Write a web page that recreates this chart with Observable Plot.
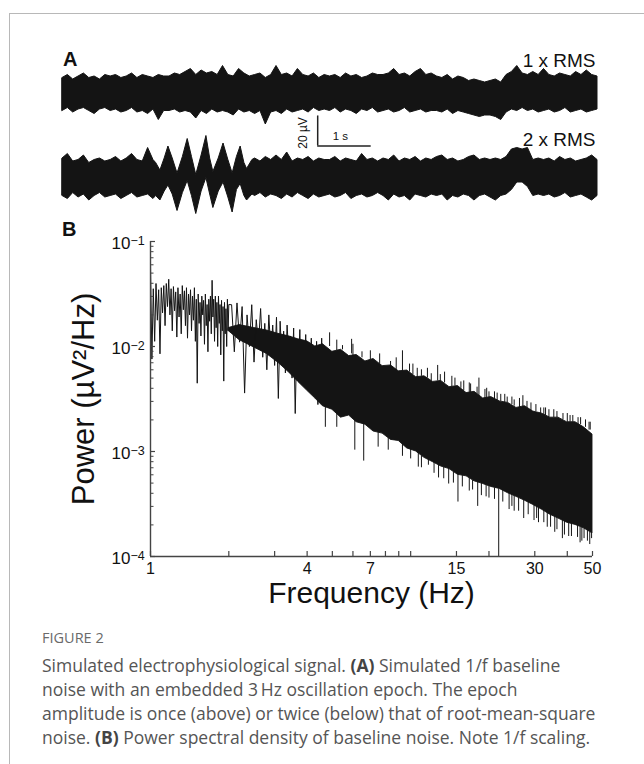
<!DOCTYPE html>
<html><head><meta charset="utf-8">
<script src="https://cdn.jsdelivr.net/npm/d3@7"></script>
<script src="https://cdn.jsdelivr.net/npm/@observablehq/plot@0.6"></script>
<style>
html,body{margin:0;padding:0;background:#fff;}
#root{position:relative;width:644px;height:764px;overflow:hidden;background:#fff;font-family:"Liberation Sans",Arial,sans-serif;}
.frame{position:absolute;left:9px;top:13px;width:700px;height:800px;border-left:1.5px solid #b8b8b8;border-top:1.5px solid #b8b8b8;}
.holder{position:absolute;left:0;width:644px;}
.plab{position:absolute;font-weight:bold;font-size:20px;line-height:20px;color:#111;}
#figno{position:absolute;left:42px;top:629.5px;font-family:"Open Sans",Lato,sans-serif;font-size:14.5px;line-height:16px;color:#6a6a6a;}
#caption{position:absolute;left:42px;top:652.6px;font-family:"Open Sans",Lato,sans-serif;font-size:17.5px;line-height:24.3px;color:#555;white-space:nowrap;}
#caption b{color:#444;}
</style></head>
<body><div id="root">
<div class="frame"></div>
<div id="panelA" class="holder" style="top:0"></div>
<div id="panelB" class="holder" style="top:215px"></div>
<div class="plab" style="left:63px;top:49px">A</div>
<div class="plab" style="left:62px;top:219px">B</div>
<div id="figno">FIGURE 2</div>
<div id="caption">Simulated electrophysiological signal. <b>(A)</b> Simulated 1/f baseline<br>noise with an embedded 3&#8201;Hz oscillation epoch. The epoch<br>amplitude is once (above) or twice (below) that of root-mean-square<br>noise. <b>(B)</b> Power spectral density of baseline noise. Note 1/f scaling.</div>
</div>
<script>
// ---------- Panel A: traces (µV), envelope ----------
const traceLabels = ["1 x RMS", "2 x RMS"];

const t1 = [0,0.1,0.2,0.3,0.4,0.5,0.6,0.7,0.8,0.9,
  1,1.1,1.2,1.3,1.4,1.5,1.6,1.7,1.8,1.9,
  2,2.1,2.2,2.3,2.4,2.5,2.6,2.7,2.8,2.9,
  3,3.1,3.2,3.3,3.4,3.5,3.6,3.7,3.8,3.9,
  4,4.1,4.2,4.3,4.4,4.5,4.6,4.7,4.8,4.9,
  5,5.1,5.2,5.3,5.4,5.5,5.6,5.7,5.8,5.9,
  6,6.1,6.2,6.3,6.4,6.5,6.6,6.7,6.8,6.9,
  7,7.1,7.2,7.3,7.4,7.5,7.6,7.7,7.8,7.9,
  8,8.1,8.2,8.3,8.4,8.5,8.6,8.7,8.8,8.9,
  9,9.1,9.2,9.3,9.4,9.5,9.6,9.7,9.8,9.9,10];
const hi1 = [10,12,9,11,13,10,11,9,12,11,
  12,10,11,13,10,12,11,10,12,11,
  11,13,12,14,16,12,15,13,14,12,
  18,12,11,16,13,11,12,13,10,12,
  18,12,13,11,16,12,11,13,10,12,
  11,12,10,13,11,12,10,11,13,12,
  12,13,16,12,13,11,14,16,12,13,
  11,10,12,9,11,10,8,9,8,7,
  8,9,7,12,14,18,13,12,14,12,
  16,12,11,13,12,11,14,12,15,12,11];
const lo1 = [-12,-10,-13,-11,-10,-12,-14,-11,-10,-12,
  -11,-13,-12,-10,-13,-12,-14,-11,-18,-12,
  -12,-11,-13,-12,-13,-17,-12,-14,-11,-13,
  -12,-13,-15,-11,-13,-12,-14,-12,-21,-13,
  -12,-14,-11,-13,-12,-11,-13,-10,-12,-11,
  -12,-10,-13,-11,-12,-14,-11,-12,-10,-13,
  -12,-11,-13,-12,-10,-13,-12,-11,-13,-12,
  -12,-13,-11,-14,-12,-13,-14,-15,-16,-15,
  -15,-16,-18,-13,-11,-12,-10,-12,-11,-13,
  -12,-11,-13,-12,-10,-13,-12,-11,-13,-12,-11];

const t2 = [0,0.1,0.2,0.3,0.4,0.5,0.6,0.7,0.8,0.9,1,1.1,1.2,1.3,1.4,1.5,1.6,1.7,
  1.75,1.83,1.91,1.98,2.06,2.15,2.25,2.34,2.42,2.5,2.6,2.69,2.76,2.82,2.92,3.01,3.1,3.18,3.26,3.33,3.4,3.45,3.55,
  3.6,3.7,3.8,3.9,4,4.1,4.2,4.3,4.4,4.5,4.6,4.7,4.8,4.9,
  5,5.1,5.2,5.3,5.4,5.5,5.6,5.7,5.8,5.9,
  6,6.1,6.2,6.3,6.4,6.5,6.6,6.7,6.8,6.9,
  7,7.1,7.2,7.3,7.4,7.5,7.6,7.7,7.8,7.9,
  8,8.1,8.2,8.3,8.4,8.5,8.6,8.7,8.8,8.9,
  9,9.1,9.2,9.3,9.4,9.5,9.6,9.7,9.8,9.9,10];
const hi2 = [13,16,11,12,15,10,12,13,11,12,14,11,13,16,12,11,20,12,
  10,5,13,21,13,3,14,26,14,2,15,28,13,4,13,23,12,3,14,21,10,6,12,
  13,11,14,12,15,12,17,11,13,12,14,11,13,12,
  12,14,11,13,12,11,16,12,13,11,
  13,12,15,11,13,12,14,11,13,12,
  14,15,12,13,11,12,14,15,12,13,
  12,13,12,14,19,20,19,20,12,13,
  12,13,11,14,12,13,11,12,13,15,12];
const lo2 = [-12,-14,-10,-13,-11,-15,-12,-10,-13,-12,-11,-14,-12,-10,-13,-12,-11,-14,
  -12,-15,-9,-5,-11,-22,-10,-2,-12,-24,-9,0,-11,-20,-9,-3,-13,-23,-8,-4,-12,-15,-11,
  -12,-10,-13,-11,-12,-14,-11,-13,-10,-12,-14,-11,-13,-12,
  -11,-13,-12,-10,-14,-12,-11,-13,-12,-10,
  -12,-15,-11,-13,-12,-15,-11,-12,-13,-11,
  -12,-11,-15,-12,-13,-11,-12,-15,-12,-11,
  -13,-15,-12,-11,-8,-3,-3,-6,-12,-11,
  -12,-11,-13,-12,-10,-13,-12,-11,-13,-15,-12];

// scale bar: 1 s by 20 µV
const scaleBarT = [4.77, 5.77];
const scaleBarV = [-35.3, -15.3];
const scaleBarLabels = ["1 s", "20 µV"];

// ---------- Panel B: power spectral density ----------
const psdLowF = [1,1.0125,1.025,1.0375,1.05,1.0625,1.075,1.0875,1.1,1.1125,1.125,1.1375,1.15,1.1625,1.175,1.1875,
  1.2,1.2125,1.225,1.2375,1.25,1.2625,1.275,1.2875,1.3,1.3125,1.325,1.3375,1.35,1.3625,1.375,1.3875,
  1.4,1.4125,1.425,1.4375,1.45,1.4625,1.475,1.4875,1.5,1.5125,1.525,1.5375,1.55,1.5625,1.575,1.5875,
  1.6,1.6125,1.625,1.6375,1.65,1.6625,1.675,1.6875,1.7,1.7125,1.725,1.7375,1.75,1.7625,1.775,1.7875,
  1.8,1.8125,1.825,1.8375,1.85,1.8625,1.875,1.8875,1.9,1.9125,1.925,1.9375,1.95,1.9625,1.975,1.9875,2,
  2.05,2.1,2.15,2.2,2.25,2.3,2.35,2.4,2.45,2.5,2.55,2.6,2.65,2.7,2.75,2.8,2.85,2.9,2.95,3,
  3.05,3.1,3.15,3.2,3.25,3.3,3.35,3.4,3.45,3.5,3.55,3.6,3.65,3.7,3.75,3.8,3.85,3.9,3.95,4,
  4.05,4.1,4.15,4.2,4.25,4.3,4.35,4.4,4.45,4.5,4.55,4.6];
const psdLowP = [0.0617,0.00759,0.0355,0.0112,0.0398,0.0178,0.0347,0.00851,0.0363,0.0209,0.0380,0.0158,0.0398,0.0240,0.0437,0.0200,
  0.0355,0.0141,0.0372,0.0219,0.0331,0.0123,0.0363,0.0191,0.0316,0.0132,0.0380,0.0224,0.0339,0.0158,0.0363,0.0120,
  0.0316,0.0200,0.0347,0.0141,0.0302,0.0178,0.0363,0.0112,0.0282,0.00447,0.0316,0.0166,0.0263,0.0126,0.0302,0.0200,
  0.0275,0.0105,0.0316,0.0158,0.0251,0.00891,0.0282,0.0174,0.0302,0.0132,0.0427,0.0191,0.0282,0.0112,0.0302,0.0151,
  0.0263,0.0100,0.0302,0.0166,0.0251,0.00832,0.0275,0.0141,0.0240,0.00468,0.0263,0.0132,0.0229,0.0100,0.0282,0.0141,0.0251,
  0.025,0.0089,0.026,0.011,0.024,0.0036,0.020,0.010,0.025,0.0071,0.018,0.0105,0.023,0.0079,0.0166,0.006,0.020,0.0089,0.016,0.0066,
  0.019,0.0032,0.0174,0.0076,0.014,0.0056,0.016,0.0083,0.0126,0.005,0.015,0.0023,0.0112,0.0063,0.0145,0.0045,0.0105,0.0052,0.013,0.004,
  0.010,0.005,0.012,0.0035,0.0095,0.0045,0.0112,0.0028,0.0089,0.004,0.012,0.0032];

const psdBandF = [2.0,2.2,2.5,2.8,3.1,3.4,3.7,4.0,4.3,4.6,5.0,5.4,5.8,6.2,6.7,7.2,7.8,8.4,9.0,9.7,10.5,11.3,12.2,13.1,14.1,15.2,16.4,17.6,19.0,20.4,22.0,23.7,25.5,27.5,29.6,31.9,34.4,37.0,39.9,43.0,46.3,50.0];
const psdBandHi = [0.0150,0.0160,0.0150,0.0142,0.0132,0.0125,0.0117,0.0112,0.0100,0.0105,0.0089,0.0093,0.0081,0.0083,0.0072,0.0076,0.0065,0.0066,0.0058,0.0059,0.0051,0.0052,0.0046,0.0047,0.0041,0.0042,0.0036,0.0037,0.0032,0.0033,0.0030,0.0029,0.0026,0.0027,0.0024,0.0023,0.0021,0.0021,0.0019,0.0019,0.0017,0.00145];
const psdBandLo = [0.0140,0.0115,0.0098,0.0085,0.0070,0.0057,0.0046,0.0038,0.0032,0.0027,0.0025,0.0021,0.0022,0.0019,0.0018,0.00155,0.00148,0.00129,0.00126,0.00107,0.0010,0.00087,0.00079,0.00072,0.00068,0.0006,0.00058,0.00052,0.00049,0.00046,0.00044,0.0004,0.00037,0.00034,0.00031,0.00028,0.00025,0.00023,0.00021,0.0002,0.000186,0.000166];

// thin spikes sticking out of the dense band (upper fringe, then lower fringe)
const psdSpikeF = [4.88,5.2,5.47,5.93,6.0,6.5,7.0,7.6,8.37,8.8,9.3,9.9,10.2,10.6,11.0,11.6,12.0,12.7,13.0,13.5,14.4,14.8,15.6,16.0,16.8,17.0,18.0,18.3,19.3,19.6,20.0,21.0,21.5,22.2,23.0,23.5,24.5,25.0,26.2,27.0,28.0,29.0,30.3,31.6,32.5,33.0,34.0,35.5,36.5,38.5,40.0,41.0,42.0,44.0,45.0,47.0,48.5,49.0,
  4.7,5.2,6.1,6.6,7.5,8.2,9.3,10.0,10.7,11.0,11.7,12.3,12.8,13.4,14.0,14.6,15.2,15.8,16.8,17.3,18.1,18.7,19.5,20.0,21.0,21.8,22.6,23.9,24.5,25.0,26.0,27.2,28.3,29.8,30.5,31.0,32.5,33.5,34.5,35.8,36.5,38.3,39.0,40.5,41.5,43.8,44.8,45.5,46.4,47.8,48.8,49.6];
const psdSpikeFrom = [0.0100,0.0091,0.0093,0.0085,0.0082,0.0078,0.0074,0.0068,0.0063,0.0060,0.0058,0.0057,0.0054,0.0051,0.0052,0.0050,0.0047,0.0047,0.0046,0.0045,0.0041,0.0042,0.0040,0.0038,0.0036,0.0036,0.0035,0.0034,0.0032,0.0032,0.0032,0.0031,0.0030,0.0030,0.0029,0.0029,0.0028,0.0027,0.0026,0.0026,0.0026,0.0024,0.0024,0.0023,0.0022,0.0022,0.0021,0.0021,0.0021,0.0020,0.0019,0.0019,0.0019,0.0018,0.0018,0.0017,0.0016,0.0016,
  0.0028,0.0024,0.0021,0.0019,0.00152,0.00135,0.0012,0.00105,0.0010,0.0009,0.00087,0.00079,0.00076,0.00071,0.00069,0.00064,0.00061,0.00059,0.00056,0.00053,0.00052,0.00050,0.00048,0.00047,0.00045,0.00044,0.00043,0.00041,0.00039,0.00038,0.00036,0.00035,0.00033,0.00032,0.00030,0.00030,0.00028,0.00027,0.00025,0.00024,0.00024,0.00023,0.00022,0.00021,0.00021,0.00020,0.00019,0.00019,0.000185,0.00018,0.00017,0.00017];
const psdSpikeTo = [0.0135,0.0115,0.0102,0.0117,0.0105,0.0089,0.0091,0.0085,0.0072,0.0078,0.0091,0.0068,0.0068,0.0062,0.0060,0.0062,0.0055,0.0066,0.0054,0.0057,0.0052,0.0050,0.0046,0.0047,0.0045,0.0044,0.0041,0.0050,0.0039,0.0040,0.0037,0.0037,0.0036,0.0035,0.0035,0.0033,0.0033,0.0031,0.0032,0.0034,0.0030,0.0029,0.0028,0.0026,0.0026,0.0026,0.0025,0.0025,0.0024,0.0023,0.0023,0.0022,0.0022,0.0021,0.0021,0.0020,0.0019,0.0019,
  0.0017,0.0017,0.00103,0.00081,0.0011,0.00103,0.0009,0.00085,0.00071,0.0007,0.00074,0.00062,0.00056,0.00055,0.00049,0.00050,0.00033,0.00046,0.00042,0.00043,0.00030,0.00038,0.00037,0.00036,0.00035,0.0001,0.00033,0.00028,0.00030,0.00027,0.00027,0.00023,0.00025,0.00022,0.00023,0.00021,0.00021,0.00019,0.00019,0.00017,0.00018,0.000148,0.00016,0.000155,0.000155,0.000152,0.000135,0.00014,0.000148,0.00014,0.00013,0.000148];

const xTicks = [1,2,3,4,5,6,7,8,9,10,15,20,30,40,50];
const xTickLabels = [1,4,7,15,30,50];
const yTicks = [0.1,0.01,0.001,0.0001];
const yTickExp = ["\u22121","\u22122","\u22123","\u22124"];
const yMinorTicks = [0.0002,0.0003,0.0004,0.0005,0.0006,0.0007,0.0008,0.0009,
  0.002,0.003,0.004,0.005,0.006,0.007,0.008,0.009,
  0.02,0.03,0.04,0.05,0.06,0.07,0.08,0.09];
const xLabel = "Frequency (Hz)";
const yLabel = "Power (\u00b5V\u00b2/Hz)";

// ---------- build tables ----------
const rowsA = [
  ...t1.map((t, i) => ({trace: traceLabels[0], t, hi: hi1[i], lo: lo1[i]})),
  ...t2.map((t, i) => ({trace: traceLabels[1], t, hi: hi2[i], lo: lo2[i]}))
];
const bar = [{trace: traceLabels[0], t0: scaleBarT[0], t1: scaleBarT[1], v0: scaleBarV[0], v1: scaleBarV[1]}];
const band = psdBandF.map((f, i) => ({f, hi: psdBandHi[i], lo: psdBandLo[i]}));
const low = psdLowF.map((f, i) => ({f, p: psdLowP[i]}));
const spikes = psdSpikeF.map((f, i) => ({f, a: psdSpikeFrom[i], b: psdSpikeTo[i]}));

const FONT = "'Liberation Sans', Arial, Helvetica, sans-serif";
const INK = "#141414";

const plotA = Plot.plot({
  width: 644, height: 230,
  marginLeft: 62, marginRight: 47, marginTop: 49.5, marginBottom: 10.5,
  x: {domain: [0, 10], axis: null},
  y: {domain: [-28.333, 28.333], axis: null},
  fy: {domain: traceLabels, padding: 0, axis: null},
  style: {fontFamily: FONT, background: "transparent", overflow: "visible"},
  marks: [
    Plot.areaY(rowsA, {x: "t", y1: "lo", y2: "hi", fy: "trace", fill: INK, stroke: INK, strokeWidth: 1, strokeLinejoin: "miter"}),
    Plot.text([traceLabels[0]], {fy: d => d, text: d => d, frameAnchor: "top-right", textAnchor: "end", lineAnchor: "bottom", dy: 16.5, dx: -2, fontSize: 19, fill: "#111"}),
    Plot.text([traceLabels[1]], {fy: d => d, text: d => d, frameAnchor: "top-right", textAnchor: "end", lineAnchor: "bottom", dy: 10.5, dx: -2, fontSize: 19, fill: "#111"}),
    Plot.ruleX(bar, {fy: "trace", x: "t0", y1: "v0", y2: "v1", stroke: "#222", strokeWidth: 1.5}),
    Plot.ruleY(bar, {fy: "trace", y: "v0", x1: "t0", x2: "t1", stroke: "#222", strokeWidth: 1.5}),
    Plot.text(bar, {fy: "trace", x: "t0", y: "v0", text: () => scaleBarLabels[0], textAnchor: "start", lineAnchor: "bottom", dx: 15, dy: -6, fontSize: 11.5, fill: "#111"}),
    Plot.text(bar, {fy: "trace", x: "t0", y: d => (d.v0 + d.v1) / 2, text: () => scaleBarLabels[1], rotate: -90, textAnchor: "middle", lineAnchor: "bottom", dx: -11, dy: 2, fontSize: 12, fill: "#111"})
  ]
});
document.getElementById("panelA").appendChild(plotA);

const PW = 442, PH = 315;
const plotB = Plot.plot({
  width: 644, height: 396,
  marginLeft: 150, marginRight: 52, marginTop: 26, marginBottom: 55,
  x: {type: "log", domain: [1, 50], axis: null},
  y: {type: "log", domain: [1e-4, 1e-1], axis: null},
  style: {fontFamily: FONT, background: "transparent", overflow: "visible"},
  marks: [
    Plot.areaY(band, {x: "f", y1: "lo", y2: "hi", fill: INK, stroke: INK, strokeWidth: 0.9}),
    Plot.ruleX(spikes, {x: "f", y1: "a", y2: "b", stroke: INK, strokeWidth: 1}),
    Plot.line(low, {x: "f", y: "p", stroke: INK, strokeWidth: 1}),
    Plot.ruleY([1e-4], {stroke: "#444", strokeWidth: 1.4}),
    Plot.ruleX([1], {stroke: "#444", strokeWidth: 1.4}),
    Plot.tickX(xTicks, {x: d => d, insetTop: PH - 5, stroke: "#444", strokeWidth: 1.2}),
    Plot.tickY(yTicks, {y: d => d, insetRight: PW - 5, stroke: "#444", strokeWidth: 1.2}),
    Plot.tickY(yMinorTicks, {y: d => d, insetRight: PW - 3.5, stroke: "#444", strokeWidth: 1}),
    Plot.text(xTickLabels, {x: d => d, frameAnchor: "bottom", text: d => String(d), textAnchor: "middle", lineAnchor: "bottom", dy: 17.5, fontSize: 16, fill: "#111"}),
    Plot.text(yTicks, {y: d => d, frameAnchor: "left", text: () => "10", textAnchor: "end", lineAnchor: "middle", dx: -20, dy: 2, fontSize: 17, fill: "#111"}),
    Plot.text(yTicks, {y: d => d, frameAnchor: "left", text: (d, i) => yTickExp[i], textAnchor: "start", lineAnchor: "top", dx: -20, dy: -5.5, fontSize: 12.5, fill: "#111"}),
    Plot.text([xLabel], {frameAnchor: "bottom", text: d => d, textAnchor: "middle", lineAnchor: "bottom", dy: 46, fontSize: 30, fill: "#111"}),
    Plot.text([yLabel], {frameAnchor: "left", text: d => d, rotate: -90, textAnchor: "middle", lineAnchor: "bottom", dx: -57, fontSize: 31, fill: "#111"})
  ]
});
document.getElementById("panelB").appendChild(plotB);
</script>
</body></html>
